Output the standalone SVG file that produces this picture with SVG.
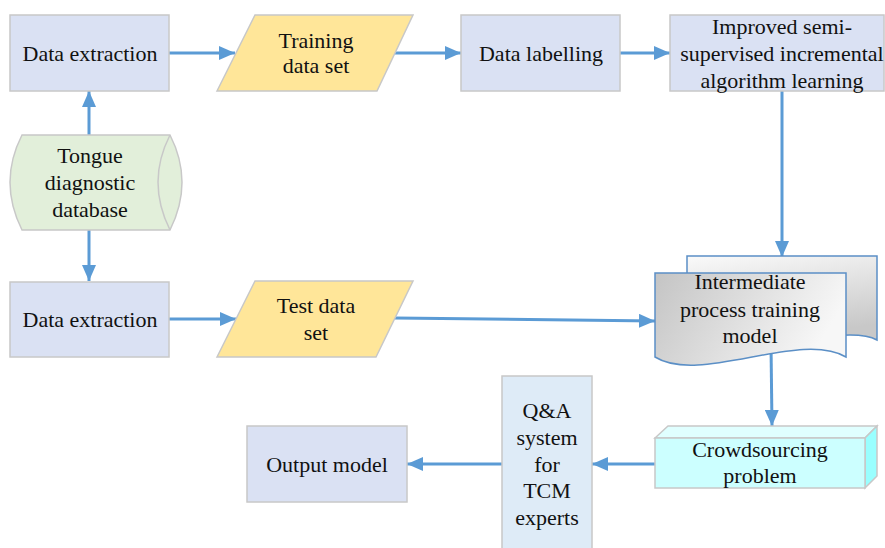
<svg xmlns="http://www.w3.org/2000/svg" width="885" height="548" viewBox="0 0 885 548">
<style>
.box{fill:#dae1f3;stroke:#c8c8c8;stroke-width:1.5}
.para{fill:#ffe699;stroke:#c8c8c8;stroke-width:1.5}
.t{font-family:'Liberation Serif','Times New Roman',serif;font-size:22px;fill:#111;text-anchor:middle}
.c{stroke:#5b9bd5;stroke-width:3;fill:none;marker-end:url(#ah)}
</style>
<defs>
<marker id="ah" markerUnits="userSpaceOnUse" markerWidth="16" markerHeight="14" refX="16" refY="7" orient="auto">
<path d="M0,0 L16,7 L0,14 z" fill="#5b9bd5"/>
</marker>
<linearGradient id="gFront" x1="0" y1="0" x2="1" y2="0.3">
<stop offset="0" stop-color="#c4c4c4"/>
<stop offset="1" stop-color="#f7f7f7"/>
</linearGradient>
<linearGradient id="gBack" x1="0" y1="0" x2="0.3" y2="1">
<stop offset="0" stop-color="#fafafa"/>
<stop offset="1" stop-color="#c8c8c8"/>
</linearGradient>
</defs>

<g id="connectors">
<line class="c" x1="89" y1="135" x2="89" y2="91"/>
<line class="c" x1="89" y1="230" x2="89" y2="281"/>
<line class="c" x1="169" y1="53" x2="235" y2="53"/>
<line class="c" x1="395" y1="53" x2="461" y2="53"/>
<line class="c" x1="620" y1="53" x2="670" y2="53"/>
<line class="c" x1="782" y1="91" x2="782" y2="257"/>
<line class="c" x1="169" y1="319" x2="236" y2="319"/>
<line class="c" x1="395" y1="318" x2="655" y2="321"/>
<line class="c" x1="771" y1="345" x2="772" y2="426"/>
<line class="c" x1="655" y1="464" x2="592" y2="464"/>
<line class="c" x1="502" y1="464" x2="407" y2="464"/>
</g>

<g id="data-extraction-1">
<rect class="box" x="10" y="15" width="159" height="76"/>
<text class="t" x="90" y="61">Data extraction</text>
</g>

<g id="training-data-set">
<polygon class="para" points="217,91 255,15 413,15 377,91"/>
<text class="t" x="316" y="48">Training</text>
<text class="t" x="316" y="73">data set</text>
</g>

<g id="data-labelling">
<rect class="box" x="461" y="15" width="159" height="76"/>
<text class="t" x="541" y="61">Data labelling</text>
</g>

<g id="improved">
<rect class="box" x="670" y="15" width="214" height="76"/>
<text class="t" x="782" y="34">Improved semi-</text>
<text class="t" x="782" y="61">supervised incremental</text>
<text class="t" x="782" y="88">algorithm learning</text>
</g>

<g id="tongue-db">
<path d="M22,135 H170 Q194,182 170,230 H22 Q-2,182 22,135 Z" fill="#e2efda" stroke="#c8c8c8" stroke-width="1.5"/>
<path d="M170,135 Q146,182 170,230" fill="none" stroke="#c8c8c8" stroke-width="1.5"/>
<text class="t" x="90" y="163">Tongue</text>
<text class="t" x="90" y="190">diagnostic</text>
<text class="t" x="90" y="217">database</text>
</g>

<g id="data-extraction-2">
<rect class="box" x="10" y="282" width="159" height="75"/>
<text class="t" x="90" y="327">Data extraction</text>
</g>

<g id="test-data-set">
<polygon class="para" points="217,357 255,281 413,281 376,357"/>
<text class="t" x="316" y="313">Test data</text>
<text class="t" x="316" y="340">set</text>
</g>

<g id="intermediate-model">
<path d="M687,273 V256 H877 V340 C850,325 780,350 687,340 Z" fill="url(#gBack)" stroke="#5b8fc6" stroke-width="1.5"/>
<path d="M655,273 H846 V357 C800,330 700,385 655,357 Z" fill="url(#gFront)" stroke="#5b8fc6" stroke-width="1.5"/>
<text class="t" x="750" y="289">Intermediate</text>
<text class="t" x="750" y="317">process training</text>
<text class="t" x="750" y="343">model</text>
</g>

<g id="crowdsourcing">
<polygon points="655,438 668,426 877,426 865,438" fill="#e0ffff" stroke="#c8c8c8" stroke-width="1.5"/>
<polygon points="865,438 877,426 877,476 865,488" fill="#99ffff" stroke="#c8c8c8" stroke-width="1.5"/>
<rect x="655" y="438" width="210" height="50" fill="#ccffff" stroke="#c8c8c8" stroke-width="1.5"/>
<text class="t" x="760" y="457">Crowdsourcing</text>
<text class="t" x="760" y="483">problem</text>
</g>

<g id="qa-system">
<rect x="502" y="376" width="90" height="180" fill="#deebf7" stroke="#c8c8c8" stroke-width="1.5"/>
<text class="t" x="547" y="418">Q&amp;A</text>
<text class="t" x="547" y="445">system</text>
<text class="t" x="547" y="472">for</text>
<text class="t" x="547" y="498">TCM</text>
<text class="t" x="547" y="525">experts</text>
</g>

<g id="output-model">
<rect class="box" x="247" y="426" width="160" height="76"/>
<text class="t" x="327" y="472">Output model</text>
</g>
</svg>
